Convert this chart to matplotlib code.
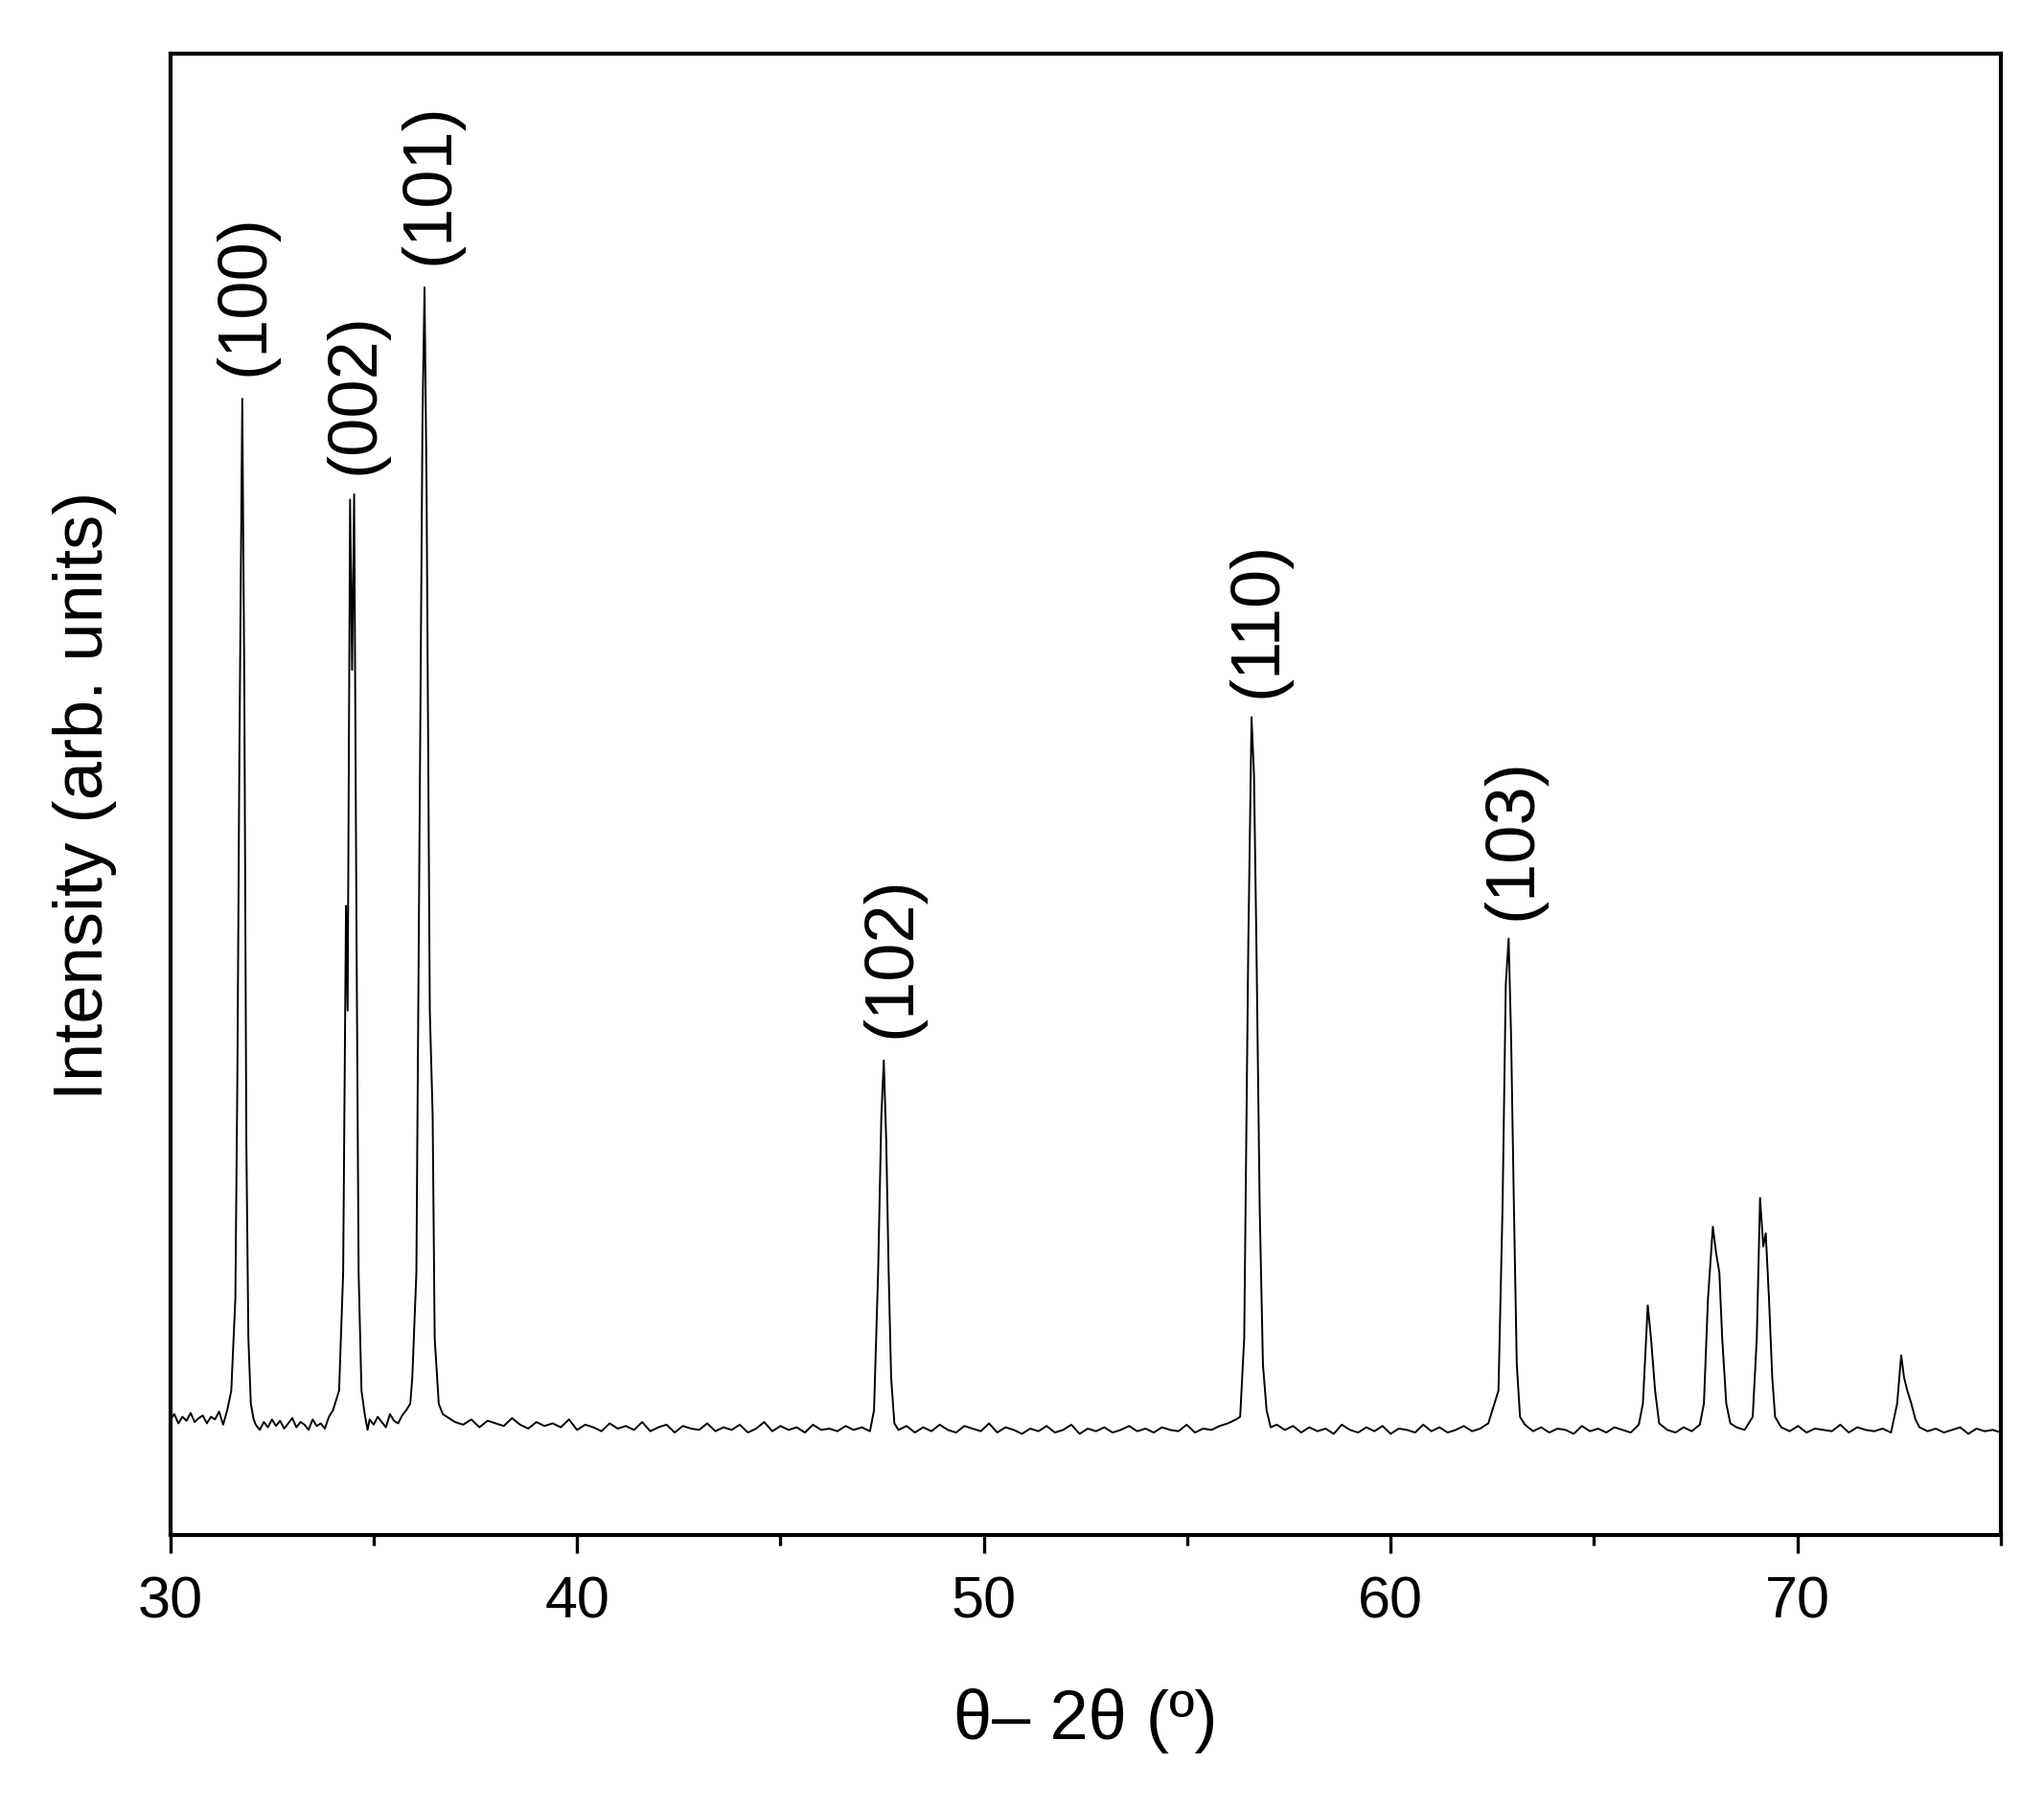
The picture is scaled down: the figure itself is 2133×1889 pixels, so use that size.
import numpy as np
import matplotlib.pyplot as plt
from matplotlib.ticker import MultipleLocator

plt.rcParams['font.family'] = ['Liberation Sans', 'DejaVu Sans']

# baseline segments: (start, end, values)
base_segments = [
    (30.0, 31.3, [88, 92, 85, 90, 87, 93, 86, 89, 91, 85, 90, 88, 94, 84]),
    (32.1, 34.0, [84, 80, 86, 82, 88, 83, 87, 81, 85, 89, 82, 86, 84, 80, 88, 83, 85, 81, 90, 95]),
    (34.9, 35.9, [88, 84, 90, 86, 82, 92, 87, 85, 91, 95, 100]),
    (36.8, 47.2, [90, 86, 84, 88, 82, 87, 85, 83, 89, 84, 81, 86, 83, 85, 82, 88, 80, 84, 82, 79,
                  85, 81, 83, 80, 86, 79, 82, 84, 78, 83, 81, 80, 85, 79, 82, 80, 84, 78, 81, 86,
                  79, 83, 80, 82, 78, 84, 80, 81, 79, 83, 80, 82, 79]),
    (47.9, 56.2, [80, 83, 78, 82, 79, 84, 80, 78, 83, 81, 79, 85, 78, 82, 80, 77, 81, 79, 83, 78,
                  80, 84, 77, 81, 79, 82, 78, 80, 83, 79, 81, 78, 82, 80, 79, 84, 78, 81, 80, 83,
                  85, 88]),
    (57.2, 62.4, [84, 80, 83, 78, 82, 79, 81, 77, 84, 80, 78, 82, 79, 83, 77, 81, 80, 78, 84, 79,
                  82, 78, 80, 83, 79, 81, 85]),
    (63.3, 66.1, [84, 79, 82, 78, 81, 80, 77, 83, 79, 81, 78, 82, 80, 78, 84]),
    (66.8, 67.6, [80, 78, 82, 79, 84]),
    (68.5, 68.9, [82, 80, 90]),
    (69.6, 72.3, [82, 79, 83, 78, 81, 80, 79, 84, 78, 82, 80, 79, 81, 78]),
    (73.0, 75.0, [82, 79, 81, 78, 80, 82, 77, 81, 79, 80, 78])
]

peak_x = [31.4, 31.5, 31.6, 31.65, 31.7, 31.77, 31.82, 31.87, 31.92, 31.98, 32.05,
          34.15, 34.25, 34.32, 34.36, 34.42, 34.47, 34.52, 34.58, 34.63, 34.7, 34.78, 34.85,
          35.95, 36.05, 36.12, 36.2, 36.25, 36.3, 36.38, 36.45, 36.5, 36.6, 36.7,
          47.3, 47.4, 47.48, 47.54, 47.6, 47.66, 47.72, 47.8,
          56.3, 56.4, 56.5, 56.58, 56.64, 56.7, 56.78, 56.86, 56.95, 57.05,
          62.5, 62.65, 62.75, 62.83, 62.9, 62.96, 63.03, 63.1, 63.18,
          66.2, 66.32, 66.4, 66.5, 66.6,
          67.7, 67.8, 67.92, 68.0, 68.08, 68.15, 68.25, 68.35,
          69.0, 69.08, 69.16, 69.22, 69.3, 69.38, 69.45,
          72.45, 72.55, 72.62, 72.7, 72.8, 72.9]
peak_y = [95, 110, 180, 350, 600, 867, 650, 300, 150, 100, 88,
          110, 200, 480, 400, 790, 660, 794, 450, 200, 110, 92, 80,
          120, 200, 500, 850, 952, 800, 400, 320, 150, 100, 92,
          95, 200, 320, 362, 300, 200, 120, 85,
          90, 150, 450, 624, 580, 450, 250, 130, 95, 82,
          95, 110, 250, 420, 455, 380, 250, 130, 90,
          100, 175, 150, 110, 85,
          100, 180, 235, 215, 200, 150, 100, 85,
          150, 257, 220, 230, 180, 120, 90,
          100, 137, 120, 110, 100, 88]

labels = ['(100)', '(002)', '(101)', '(102)', '(110)', '(103)']
label_x = [31.85, 34.55, 36.4, 47.75, 56.75, 63.0]
label_y = [885, 810, 970, 380, 640, 470]

xs = list(peak_x)
ys = list(peak_y)
for a, b, vals in base_segments:
    xs += list(np.linspace(a, b, len(vals)))
    ys += vals
order = np.argsort(xs)
xs = np.array(xs)[order]
ys = np.array(ys)[order]

fig = plt.figure(figsize=(10.665, 9.45), dpi=200)
ax = fig.add_axes([0.0833, 0.152, 0.8956, 0.8176])
ax.plot(xs, ys, color='black', lw=0.7)
ax.set_xlim(30, 75)
ax.set_ylim(0, 1130)
ax.set_yticks([])
ax.xaxis.set_major_locator(MultipleLocator(10))
ax.xaxis.set_minor_locator(MultipleLocator(5))
ax.tick_params(axis='x', which='major', length=7, width=1.2, labelsize=22, pad=8)
ax.tick_params(axis='x', which='minor', length=4, width=1.2)
for s in ax.spines.values():
    s.set_linewidth(1.5)
ax.set_xlabel('θ– 2θ (º)', fontsize=26, labelpad=22)
ax.set_ylabel('Intensity (arb. units)', fontsize=26, labelpad=20)
for t, x, y in zip(labels, label_x, label_y):
    ax.text(x, y, t, rotation=90, fontsize=26, ha='center', va='bottom')

fig.savefig('out.png', dpi=200)
